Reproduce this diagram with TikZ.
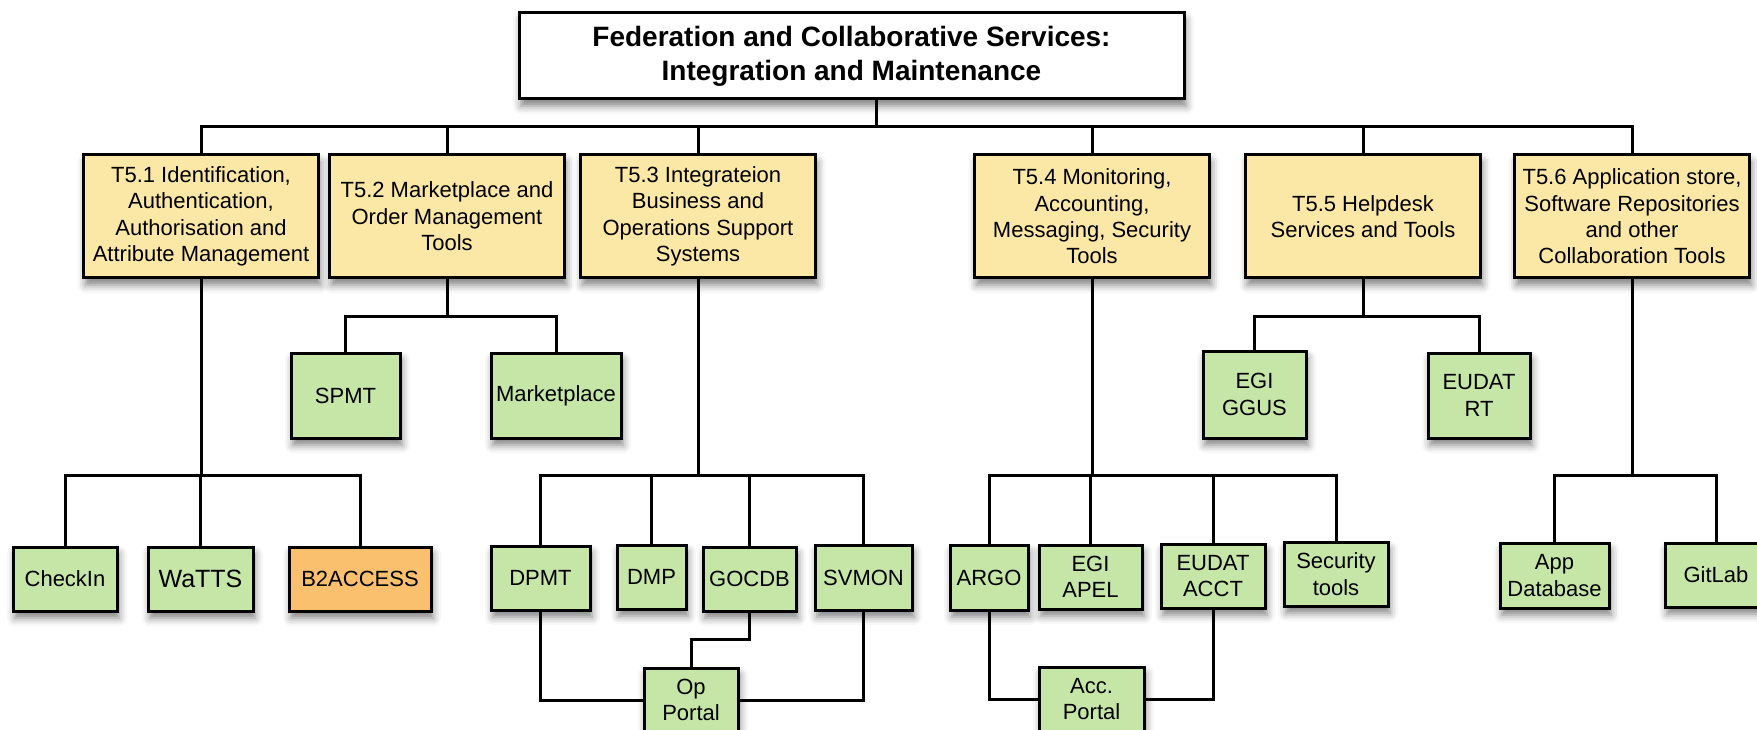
\documentclass[tikz,border=0pt]{standalone}
\usepackage{fontspec}
\setmainfont{Liberation Sans}
\usepackage{tikz}
\usetikzlibrary{shadows.blur}
\definecolor{taskfill}{HTML}{FCE8A6}
\definecolor{toolfill}{HTML}{C6E6A8}
\definecolor{hifill}{HTML}{FBC06E}

\begin{document}
\begin{tikzpicture}[x=1pt,y=-1pt,line width=3pt,
  box/.style={draw,inner sep=0pt,align=center,font=\fontsize{22}{26.4}\selectfont,
    blur shadow={shadow xshift=2pt,shadow yshift=-7pt,shadow blur radius=8pt,shadow opacity=50}},
  headbox/.style={box,fill=white,minimum width=665pt,minimum height=86pt,
    font=\fontsize{28}{34}\selectfont\bfseries},
  taskbox/.style={box,fill=taskfill,minimum width=235pt,minimum height=123pt},
  toolbox/.style={box,fill=toolfill,minimum height=64pt},
  hibox/.style={box,fill=hifill,minimum height=64pt}]
\useasboundingbox (0,0) rectangle (1757,730);

% top
\node[headbox] (fed) at (851.5,56) {Federation and Collaborative Services:\\Integration and Maintenance};

% tasks
\node[taskbox] (t51) at (201,216.5) {T5.1 Identification,\\Authentication,\\Authorisation and\\Attribute Management};
\node[taskbox] (t52) at (447,216.5) {T5.2 Marketplace and\\Order Management\\Tools};
\node[taskbox] (t53) at (698,216.5) {T5.3 Integrateion\\Business and\\Operations Support\\Systems};
\node[taskbox] (t54) at (1092,216.5) {T5.4 Monitoring,\\Accounting,\\Messaging, Security\\Tools};
\node[taskbox] (t55) at (1363,216.5) {T5.5 Helpdesk\\Services and Tools};
\node[taskbox] (t56) at (1632,216.5) {T5.6 Application store,\\Software Repositories\\and other\\Collaboration Tools};

% tools, second row
\node[toolbox,minimum width=109pt,minimum height=85pt] (spmt) at (345.5,395.5) {SPMT};
\node[toolbox,minimum width=130pt,minimum height=85pt] (market) at (556,395.5) {Marketplace};
\node[toolbox,minimum width=103pt,minimum height=87pt] (ggus) at (1254.5,394.5) {EGI\\GGUS};
\node[toolbox,minimum width=102pt,minimum height=85pt] (eudatrt) at (1479,395.5) {EUDAT\\RT};

% tools, third row
\node[toolbox,minimum width=104pt] (checkin) at (65,579) {CheckIn};
\node[toolbox,minimum width=105pt,font=\fontsize{25}{30}\selectfont] (watts) at (200.5,579) {WaTTS};
\node[hibox,minimum width=142pt] (b2access) at (360,579) {B2ACCESS};
\node[toolbox,minimum width=99pt] (dpmt) at (540.5,578) {DPMT};
\node[toolbox,minimum width=69pt] (dmp) at (651.5,577) {DMP};
\node[toolbox,minimum width=93pt] (gocdb) at (749.5,579) {GOCDB};
\node[toolbox,minimum width=97pt,minimum height=65pt] (svmon) at (863.5,577.5) {SVMON};
\node[toolbox,minimum width=78pt,minimum height=65pt] (argo) at (989,577.5) {ARGO};
\node[toolbox,minimum width=103pt] (apel) at (1090.5,577) {EGI\\APEL};
\node[toolbox,minimum width=104pt] (acct) at (1213,576) {EUDAT\\ACCT};
\node[toolbox,minimum width=104pt] (sectools) at (1336,574) {Security\\tools};
\node[toolbox,minimum width=109pt,minimum height=65pt] (appdb) at (1554.5,575.5) {App\\Database};
\node[toolbox,minimum width=102pt] (gitlab) at (1716,575) {GitLab};

% portals
\node[toolbox,minimum width=94pt] (oportal) at (691,700) {Op\\Portal};
\node[toolbox,minimum width=105pt] (accportal) at (1091.5,699) {Acc.\\Portal};

% connectors
\coordinate (bus) at (876,127);
\coordinate (lvB) at (0,316);
\coordinate (lvC) at (0,475);
\coordinate (lvD) at (0,639);
\draw (fed.south -| bus) -- (bus);
\foreach \t in {t51,t52,t53,t54,t55,t56}
  \draw (bus) -| (\t.north);

\draw (t51.south) -- (t51.south |- lvC);
\foreach \c in {checkin,watts,b2access}
  \draw (t51.south |- lvC) -| (\c.north);
\draw (t52.south) -- (t52.south |- lvB);
\foreach \c in {spmt,market}
  \draw (t52.south |- lvB) -| (\c.north);
\draw (t53.south) -- (t53.south |- lvC);
\foreach \c in {dpmt,dmp,gocdb,svmon}
  \draw (t53.south |- lvC) -| (\c.north);
\draw (t54.south) -- (t54.south |- lvC);
\foreach \c in {argo,apel,acct,sectools}
  \draw (t54.south |- lvC) -| (\c.north);
\draw (t55.south) -- (t55.south |- lvB);
\foreach \c in {ggus,eudatrt}
  \draw (t55.south |- lvB) -| (\c.north);
\draw (t56.south) -- (t56.south |- lvC);
\foreach \c in {appdb,gitlab}
  \draw (t56.south |- lvC) -| (\c.north);

\draw (dpmt.south) |- (oportal.west);
\draw (svmon.south) |- (oportal.east);
\draw (gocdb.south) -- (gocdb.south |- lvD) -| (oportal.north);
\draw (argo.south) |- (accportal.west);
\draw (acct.south) |- (accportal.east);
\end{tikzpicture}
\end{document}
